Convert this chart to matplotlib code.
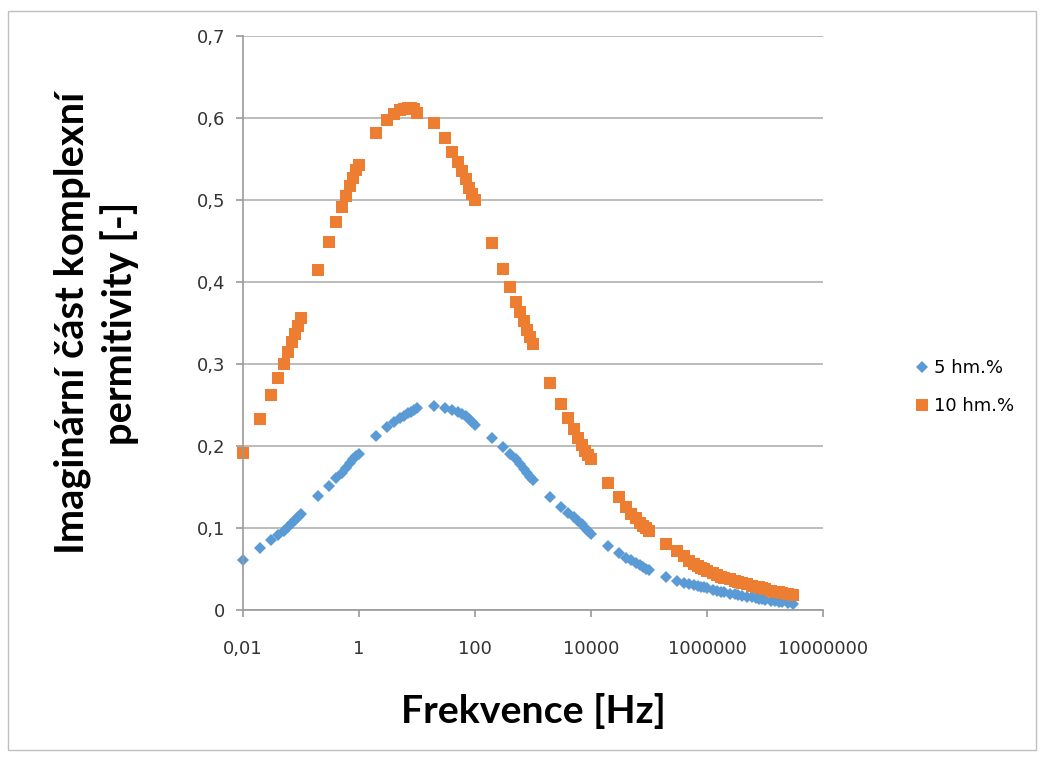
import matplotlib
matplotlib.use("Agg")
import matplotlib.pyplot as plt
from matplotlib.patches import Rectangle

plt.rcParams['font.family'] = ['Lato', 'DejaVu Sans']

# === Data ===
freq = [0.01, 0.02, 0.03, 0.04, 0.05, 0.06, 0.07, 0.08, 0.09,
        0.1, 0.2, 0.3, 0.4, 0.5, 0.6, 0.7, 0.8, 0.9,
        1, 2, 3, 4, 5, 6, 7, 8, 9,
        10, 20, 30, 40, 50, 60, 70, 80, 90,
        100, 200, 300, 400, 500, 600, 700, 800, 900,
        1e3, 2e3, 3e3, 4e3, 5e3, 6e3, 7e3, 8e3, 9e3,
        1e4, 2e4, 3e4, 4e4, 5e4, 6e4, 7e4, 8e4, 9e4,
        1e5, 2e5, 3e5, 4e5, 5e5, 6e5, 7e5, 8e5, 9e5,
        1e6, 1.25e6, 1.5e6, 1.75e6, 2e6, 2.5e6, 3e6, 3.5e6, 4e6, 5e6, 6e6, 7e6, 8e6, 9e6,
        1e7, 1.25e7, 1.5e7, 1.75e7, 2e7, 2.5e7, 3e7]

eps_5 = [0.062, 0.076, 0.086, 0.092, 0.097, 0.102, 0.106, 0.110, 0.114,
         0.118, 0.139, 0.152, 0.161, 0.168, 0.174, 0.179, 0.184, 0.188,
         0.191, 0.212, 0.223, 0.229, 0.234, 0.237, 0.240, 0.242, 0.244,
         0.246, 0.2485, 0.247, 0.244, 0.2415, 0.239, 0.2365, 0.2335, 0.230,
         0.226, 0.210, 0.199, 0.190, 0.184, 0.178, 0.172, 0.167, 0.163,
         0.159, 0.138, 0.1265, 0.119, 0.1135, 0.109, 0.105, 0.101, 0.097,
         0.0935, 0.078, 0.0695, 0.064, 0.061, 0.058, 0.055, 0.053, 0.051,
         0.049, 0.041, 0.036, 0.034, 0.032, 0.031, 0.030, 0.029, 0.028,
         0.027, 0.025, 0.024, 0.023, 0.022, 0.0205, 0.0195, 0.0185, 0.018, 0.0168, 0.0158, 0.015, 0.0143, 0.0137,
         0.013, 0.012, 0.0112, 0.0105, 0.0098, 0.0088, 0.008]

eps_10 = [0.192, 0.233, 0.262, 0.283, 0.300, 0.315, 0.327, 0.337, 0.346,
          0.356, 0.415, 0.449, 0.473, 0.491, 0.505, 0.517, 0.527, 0.536,
          0.542, 0.581, 0.597, 0.605, 0.609, 0.611, 0.612, 0.612, 0.611,
          0.606, 0.594, 0.575, 0.559, 0.546, 0.535, 0.525, 0.514, 0.507,
          0.500, 0.448, 0.416, 0.394, 0.376, 0.363, 0.352, 0.342, 0.333,
          0.325, 0.277, 0.252, 0.235, 0.221, 0.210, 0.201, 0.194, 0.189,
          0.185, 0.155, 0.138, 0.126, 0.117, 0.112, 0.107, 0.103, 0.100,
          0.097, 0.081, 0.072, 0.066, 0.060, 0.057, 0.054, 0.052, 0.050,
          0.048, 0.045, 0.043, 0.041, 0.040, 0.038, 0.036, 0.035, 0.034, 0.032, 0.030, 0.029, 0.028, 0.027,
          0.026, 0.024, 0.023, 0.022, 0.021, 0.020, 0.019]

x_ticks = [0.01, 1, 100, 1e4, 1e6, 1e8]
x_labels = ["0,01", "1", "100", "10000", "1000000", "10000000"]
y_ticks = [0, 0.1, 0.2, 0.3, 0.4, 0.5, 0.6, 0.7]
y_labels = ["0", "0,1", "0,2", "0,3", "0,4", "0,5", "0,6", "0,7"]

# === Plot ===
fig = plt.figure(figsize=(10.43, 7.58), dpi=100)
ax = fig.add_axes([0.233, 0.1947, 0.556, 0.7581])

ax.plot(freq, eps_5, linestyle='none', marker='D', markersize=5.7,
        color='#5B9BD5', markeredgewidth=0, label="5 hm.%", clip_on=False)
ax.plot(freq, eps_10, linestyle='none', marker='s', markersize=9.3,
        color='#ED7D31', markeredgewidth=0, label="10 hm.%", clip_on=False)

ax.set_xscale('log')
ax.set_xlim(0.01, 1e8)
ax.set_ylim(0, 0.7)
ax.set_xticks(x_ticks)
ax.set_xticklabels(x_labels, family='DejaVu Sans')
ax.minorticks_off()
ax.set_yticks(y_ticks)
ax.set_yticklabels(y_labels, family='DejaVu Sans')

ax.yaxis.grid(True, color='#b0b0b0', linewidth=1.2)
ax.set_axisbelow(True)
for s in ['top', 'right']:
    ax.spines[s].set_visible(False)
for s in ['left', 'bottom']:
    ax.spines[s].set_color('#9a9a9a')
    ax.spines[s].set_linewidth(1.2)
ax.tick_params(axis='both', direction='out', length=5, width=1.2, color='#9a9a9a',
               labelsize=13, labelcolor='#333333')
ax.tick_params(axis='x', pad=16)
ax.tick_params(axis='y', pad=8)

fig.text(0.511, 0.062, "Frekvence [Hz]", ha='center', va='center',
         fontsize=28.3, fontweight='bold')
fig.text(0.092, 0.574, "Imaginární část komplexní\npermitivity [-]", ha='center', va='center',
         rotation=90, fontsize=28.7, fontweight='bold', linespacing=1.3, multialignment='center')

fig.legend(loc='center left', bbox_to_anchor=(0.868, 0.489), frameon=False,
           prop={'family': 'DejaVu Sans', 'size': 13}, handletextpad=0.2,
           labelspacing=1.1, handlelength=1.0, borderaxespad=0)

fig.patches.append(Rectangle((0.008, 0.011), 0.985, 0.975, transform=fig.transFigure,
                             fill=False, edgecolor='#bfbfbf', linewidth=1.0))

fig.savefig("out.png", dpi=100)
